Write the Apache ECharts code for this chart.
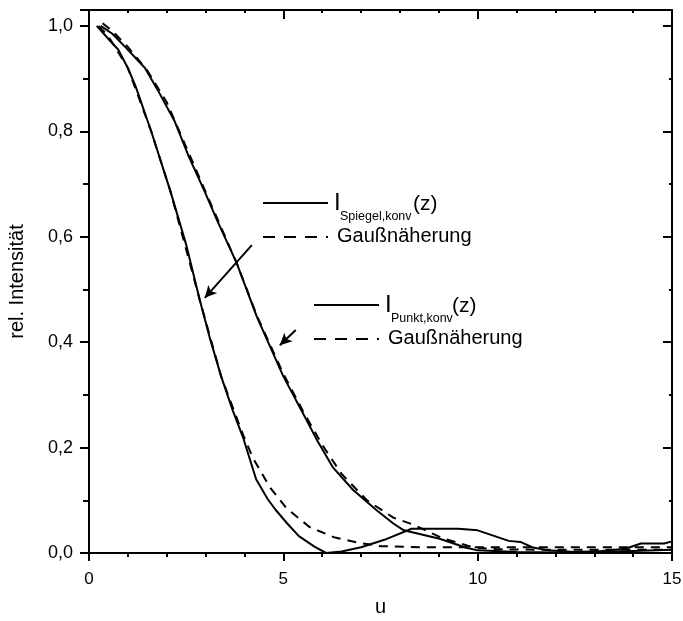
<!DOCTYPE html>
<html>
<head>
<meta charset="utf-8">
<script src="https://cdn.jsdelivr.net/npm/echarts@6/dist/echarts.min.js"></script>
<style>
  html, body { margin: 0; padding: 0; background: #fff; }
  #chart { width: 683px; height: 621px; }
</style>
</head>
<body>
<div id="chart"></div>
<script>
// I_Spiegel,konv(z) - schmale Kurve
var uSpiegel = [0.2, 0.5, 0.75, 1.0, 1.2, 1.6, 2.1, 2.5, 2.85, 3.1, 3.4, 3.7, 3.96, 4.3, 4.6, 4.8, 5.1, 5.4, 5.8, 6.1, 6.5, 7.0, 7.6, 8.3, 9.5, 10.0, 10.8, 11.1, 11.4, 11.8, 12.5, 13.2, 13.8, 14.2, 14.8, 15.0];
var vSpiegel = [1.0, 0.975, 0.955, 0.92, 0.885, 0.80, 0.685, 0.585, 0.48, 0.41, 0.335, 0.27, 0.22, 0.14, 0.102, 0.082, 0.056, 0.032, 0.012, 0.0, 0.003, 0.011, 0.025, 0.046, 0.046, 0.043, 0.023, 0.021, 0.011, 0.005, 0.002, 0.004, 0.008, 0.018, 0.018, 0.022];
// Gaussnaeherung zu Spiegel
var uGaussSpiegel = [0.25, 0.5, 1.0, 1.6, 2.1, 2.85, 3.4, 3.96, 4.22, 4.65, 5.08, 5.68, 6.3, 6.9, 7.5, 8.5, 10.0, 12.0, 15.0];
var vGaussSpiegel = [1.0, 0.98, 0.92, 0.80, 0.685, 0.48, 0.335, 0.225, 0.18, 0.125, 0.085, 0.049, 0.03, 0.02, 0.013, 0.011, 0.011, 0.011, 0.011];
// I_Punkt,konv(z) - breite Kurve
var uPunkt = [0.3, 0.6, 0.93, 1.44, 1.77, 2.21, 2.55, 2.98, 3.29, 3.8, 4.32, 5.0, 5.42, 5.86, 6.27, 6.79, 7.4, 7.83, 8.1, 9.02, 9.71, 10.0, 11.0, 12.0, 13.0, 14.0, 15.0];
var vPunkt = [1.0, 0.985, 0.96, 0.92, 0.878, 0.818, 0.755, 0.685, 0.632, 0.55, 0.448, 0.335, 0.277, 0.215, 0.163, 0.12, 0.081, 0.056, 0.043, 0.027, 0.01, 0.005, 0.002, 0.001, 0.002, 0.004, 0.006];
// Gaussnaeherung zu Punkt
var uGaussPunkt = [0.35, 0.6, 1.0, 1.5, 2.0, 2.5, 3.0, 3.8, 4.32, 5.0, 5.5, 6.0, 6.5, 7.15, 7.83, 8.3, 9.1, 9.87, 10.5, 12.0, 15.0];
var vGaussPunkt = [1.005, 0.99, 0.96, 0.915, 0.855, 0.77, 0.685, 0.55, 0.45, 0.34, 0.27, 0.205, 0.15, 0.1, 0.067, 0.055, 0.028, 0.011, 0.007, 0.006, 0.006];

var font = 'Liberation Sans, Arial, sans-serif';

function pairs(u, v) {
  return u.map(function (x, i) { return [x, v[i]]; });
}
function commaLabel(v) {
  if (Math.abs(v * 5 - Math.round(v * 5)) > 1e-6) return '';
  return v.toFixed(1).replace('.', ',');
}

var chart = echarts.init(document.getElementById('chart'));

var axisBase = {
  axisLine: { show: true, onZero: false, lineStyle: { color: '#000', width: 2 } },
  splitLine: { show: false }
};

// Legende: Linie + I mit Index + (z), darunter gestrichelt + Gaußnäherung
function legendBlock(x, y, sub, zOffset) {
  return [
    { type: 'line', shape: { x1: x, y1: y, x2: x + 65, y2: y }, style: { stroke: '#000', lineWidth: 2 } },
    { type: 'line', shape: { x1: x, y1: y + 34, x2: x + 65, y2: y + 34 }, style: { stroke: '#000', lineWidth: 2, lineDash: [12, 9] } },
    { type: 'text', left: x + 71, top: y - 12, style: { text: 'I', font: '24px ' + font, fill: '#000' } },
    { type: 'text', left: x + 77, top: y + 7, style: { text: sub, font: '12.5px ' + font, fill: '#000' } },
    { type: 'text', left: x + zOffset, top: y - 9, style: { text: '(z)', font: '21px ' + font, fill: '#000' } },
    { type: 'text', left: x + 74, top: y + 23, style: { text: 'Gaußnäherung', font: '20px ' + font, fill: '#000' } }
  ];
}

var option = {
  animation: false,
  backgroundColor: '#fff',
  grid: { left: 89, right: 11, top: 10, bottom: 68, outerBoundsMode: 'none' },
  xAxis: [
    Object.assign({
      type: 'value', min: 0, max: 15, interval: 5, position: 'bottom',
      name: 'u', nameLocation: 'middle', nameGap: 44,
      nameTextStyle: { fontFamily: font, fontSize: 20, color: '#000' },
      axisTick: { length: 8, lineStyle: { width: 2, color: '#000' } },
      minorTick: { show: true, splitNumber: 5, length: 4, lineStyle: { width: 2, color: '#000' } },
      axisLabel: { fontFamily: font, fontSize: 17, color: '#000', margin: 18 }
    }, axisBase),
    Object.assign({
      type: 'value', min: 0, max: 15, interval: 5, position: 'top',
      axisTick: { inside: true, length: 9, lineStyle: { width: 2, color: '#000' } },
      minorTick: { show: true, splitNumber: 5, length: 3, lineStyle: { width: 2, color: '#000' } },
      axisLabel: { show: false }
    }, axisBase)
  ],
  yAxis: [
    Object.assign({
      type: 'value', min: 0, max: 1.03, interval: 0.2, position: 'left',
      name: 'rel. Intensität', nameLocation: 'middle', nameGap: 62, nameRotate: 90,
      nameTextStyle: { fontFamily: font, fontSize: 20, color: '#000' },
      axisTick: { length: 9, lineStyle: { width: 2, color: '#000' } },
      minorTick: { show: true, splitNumber: 2, length: 6, lineStyle: { width: 2, color: '#000' } },
      axisLabel: { fontFamily: font, fontSize: 18, color: '#000', margin: 16, formatter: commaLabel, showMaxLabel: false }
    }, axisBase),
    Object.assign({
      type: 'value', min: 0, max: 1.03, interval: 0.2, position: 'right',
      axisTick: { inside: true, length: 9, lineStyle: { width: 2, color: '#000' } },
      minorTick: { show: true, splitNumber: 2, length: 3, lineStyle: { width: 2, color: '#000' } },
      axisLabel: { show: false }
    }, axisBase)
  ],
  series: [
    {
      name: 'I Spiegel,konv(z)', type: 'line', data: pairs(uSpiegel, vSpiegel),
      showSymbol: false, lineStyle: { color: '#000', width: 2 },
      markLine: {
        silent: true, symbol: ['none', 'arrow'], symbolSize: [9, 12],
        label: { show: false },
        lineStyle: { color: '#000', width: 2, type: 'solid' },
        data: [
          [{ coord: [4.19, 0.584] }, { coord: [2.98, 0.484] }],
          [{ coord: [5.32, 0.423] }, { coord: [4.91, 0.394] }]
        ]
      }
    },
    {
      name: 'Gauß Spiegel', type: 'line', data: pairs(uGaussSpiegel, vGaussSpiegel),
      showSymbol: false, lineStyle: { color: '#000', width: 2, type: [9, 7] }
    },
    {
      name: 'I Punkt,konv(z)', type: 'line', data: pairs(uPunkt, vPunkt),
      showSymbol: false, lineStyle: { color: '#000', width: 2 }
    },
    {
      name: 'Gauß Punkt', type: 'line', data: pairs(uGaussPunkt, vGaussPunkt),
      showSymbol: false, lineStyle: { color: '#000', width: 2, type: [9, 7] }
    }
  ],
  graphic: legendBlock(263, 203, 'Spiegel,konv', 150).concat(legendBlock(314, 305, 'Punkt,konv', 138))
};

chart.setOption(option);
</script>
</body>
</html>
